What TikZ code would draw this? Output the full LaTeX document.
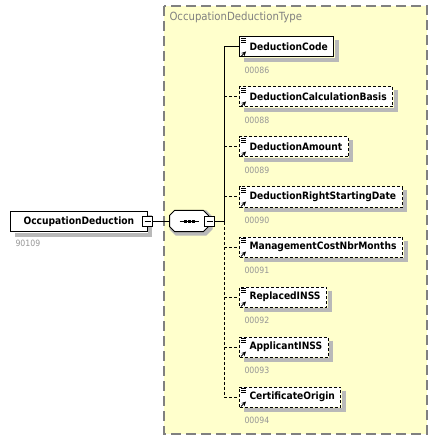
\documentclass[tikz,border=0pt]{standalone}
\usepackage{fontspec}
\setmainfont{DejaVu Sans Condensed}
\usetikzlibrary{calc}
\definecolor{typebg}{RGB}{255,255,204}
\definecolor{typeline}{RGB}{128,128,128}
\definecolor{idgray}{RGB}{150,150,150}
\definecolor{shadowgray}{RGB}{185,185,185}
\newcommand{\octpath}{-- ++(29,0) -- ++(5,5) -- ++(0,11) -- ++(-5,5) -- ++(-29,0) -- ++(-5,-5) -- ++(0,-11) -- cycle}
\newcommand{\boxshadow}[1]{\draw[shadowgray,line width=4bp,line join=miter] ($(#1.north east)+(2.5,4)$) -- ($(#1.south east)+(2.5,2.5)$) -- ($(#1.south west)+(5,2.5)$);}
\begin{document}
\begin{tikzpicture}[x=1bp,y=-1bp,line width=1bp,>=stealth,
	elem/.style={draw,fill=white,anchor=west,minimum height=20bp,inner xsep=6bp,inner ysep=0pt,
		font=\fontsize{10.2}{12}\selectfont\bfseries,execute at begin node=\hspace*{4bp}},
	optelem/.style={elem,dash pattern=on 3bp off 2bp},
	rootelem/.style={elem,execute at begin node=\hspace*{3bp},execute at end node=\hspace*{7bp}},
	optconn/.style={dash pattern=on 3bp off 2bp},
	idlbl/.style={anchor=west,inner sep=0pt,text=idgray,font=\fontsize{8.7}{10}\selectfont},
	minusbox/.style={draw,fill=white,minimum size=10bp,inner sep=0pt,
		path picture={\draw[line width=0.8bp] ($(path picture bounding box.west)+(2,0)$)--($(path picture bounding box.east)+(-2,0)$);}}]
	\useasboundingbox (0,0) rectangle (437,441);
	% complex type frame
	\fill[typebg] (164,6) rectangle (427,434);
	\draw[typeline,line width=1.5bp,dash pattern=on 10bp off 5bp] (164,6) rectangle (427,434);
	\node[anchor=west,inner sep=0pt,text=typeline,font=\fontsize{11.3}{13}\selectfont] (tlbl) at (169,17) {OccupationDeductionType};
	% root element and sequence
	\node[rootelem] (od) at (10,221.5) {OccupationDeduction};
	\boxshadow{od}
	\node[idlbl] (od-id) at (15,243) {90109};
	\node[minusbox] (odm) at (od.east) {};
	\node[minimum width=39bp,minimum height=21bp,inner sep=0pt] (seq) at (189.5,221.5) {};
	\draw[shadowgray,line width=4bp,line join=miter,fill=shadowgray] ($(seq.north west)+(7,2)$) \octpath;
	\draw[fill=white] ($(seq.north west)+(5,0)$) \octpath;
	\draw ($(seq.center)+(-10,0)$)--($(seq.center)+(9,0)$);
	\foreach \dx in {-4,0,4} \fill ($(seq.center)+(\dx-1.5,-1.5)$) rectangle +(3,3);
	\node[minusbox] (seqm) at (seq.east) {};
	\coordinate (seqj) at (224,221.5);
	\draw (odm)--(seq);
	\draw (seqm)--(seqj);
	% children
	\foreach \i/\nm/\txt/\id/\st/\ln in {0/dc/DeductionCode/00086/elem/solid,
		1/dcb/DeductionCalculationBasis/00088/optelem/optconn,
		2/da/DeductionAmount/00089/optelem/optconn,
		3/drsd/DeductionRightStartingDate/00090/optelem/optconn,
		4/mcnm/ManagementCostNbrMonths/00091/optelem/optconn,
		5/rinss/ReplacedINSS/00092/optelem/optconn,
		6/ainss/ApplicantINSS/00093/optelem/optconn,
		7/corig/CertificateOrigin/00094/optelem/optconn}{
		\coordinate (b\i) at (224,{47+50*\i});
		\node[\st] (\nm) at (239,{47+50*\i}) {\txt};
		\boxshadow{\nm}
		\draw[\ln] (b\i)--(\nm.west);
		\node[idlbl] (\nm-id) at ($(\nm.west)+(5,23)$) {\id};
		\draw ($(\nm.north west)+(2,2)$)--+(5,0) ($(\nm.north west)+(2,4)$)--+(5,0) ($(\nm.north west)+(2,6)$)--+(5,0);
		\draw[->] ($(\nm.south west)+(2,-1)$)--+(5,-5);
	}
	\draw (b0)--(seqj);
	\draw[optconn] (seqj)--(b7);
\end{tikzpicture}
\end{document}
